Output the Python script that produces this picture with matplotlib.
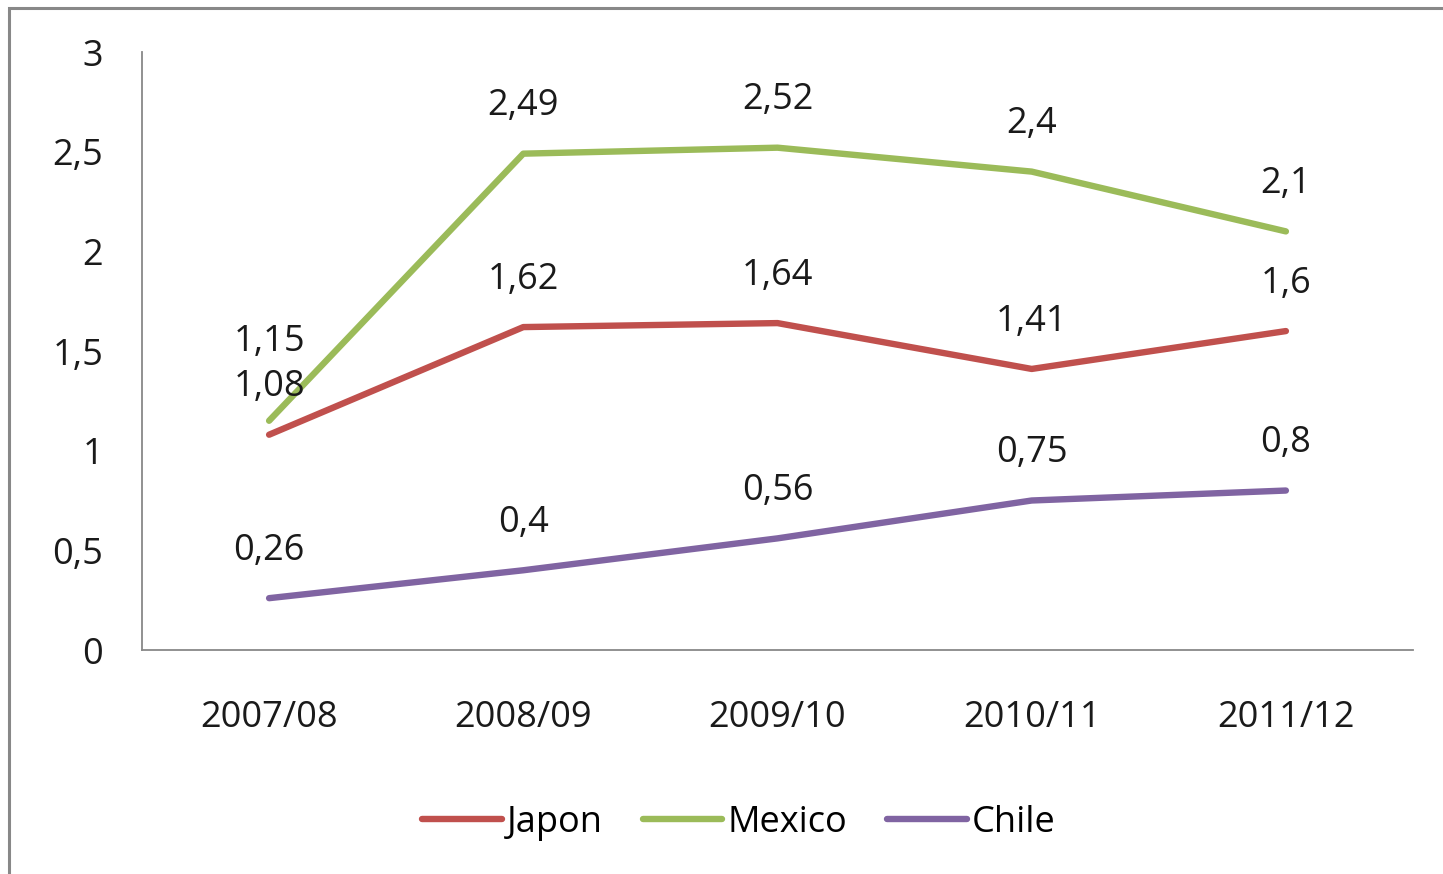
import matplotlib.pyplot as plt
from matplotlib.patches import Rectangle
import numpy as np

# data
categories = ["2007/08", "2008/09", "2009/10", "2010/11", "2011/12"]
japon = [1.08, 1.62, 1.64, 1.41, 1.6]
mexico = [1.15, 2.49, 2.52, 2.4, 2.1]
chile = [0.26, 0.4, 0.56, 0.75, 0.8]
series_names = ["Japon", "Mexico", "Chile"]
yticks = [0, 0.5, 1, 1.5, 2, 2.5, 3]

colors = ["#C0504D", "#9BBB59", "#8064A2"]

plt.rcParams['font.family'] = ['Open Sans', 'DejaVu Sans']
FS = 26

fig = plt.figure(figsize=(14.43, 8.74), dpi=100)
ax = fig.add_axes([142 / 1443, 1 - 650 / 874, (1413 - 142) / 1443, (650 - 52) / 874])

x = np.arange(len(categories)) + 0.5
series = [japon, mexico, chile]
for name, vals, c in zip(series_names, series, colors):
    ax.plot(x, vals, color=c, lw=4.6, solid_capstyle='round', label=name)

# data labels (offsets in points above the point)
offsets = {"Mexico": [57, 34, 34, 34, 34]}
for name, vals in zip(series_names, series):
    offs = offsets.get(name, [34] * len(vals))
    for xi, v, o in zip(x, vals, offs):
        ax.annotate(f"{v:g}".replace('.', ','), (xi, v), xytext=(0, o),
                    textcoords='offset points', ha='center', va='center',
                    fontsize=FS, color='#1a1a1a')

ax.set_xlim(0, 5)
ax.set_ylim(0, 3)
ax.set_xticks(x)
ax.set_xticklabels(categories)
ax.set_yticks(yticks)
ax.set_yticklabels([f"{t:g}".replace('.', ',') for t in yticks])
ax.tick_params(axis='both', length=0, labelsize=FS, colors='#1a1a1a')
ax.tick_params(axis='y', pad=28)
ax.tick_params(axis='x', pad=36)
for s in ['top', 'right']:
    ax.spines[s].set_visible(False)
for s in ['left', 'bottom']:
    ax.spines[s].set_color('#888888')
    ax.spines[s].set_linewidth(1.3)

fig.legend(loc='center', bbox_to_anchor=(739 / 1443, 1 - 823 / 874), ncol=3,
           frameon=False, fontsize=FS, handlelength=2.2, handletextpad=0.15,
           columnspacing=1.1)

# outer chart frame (right and bottom cut off in the reference)
fig.patches.append(Rectangle((9 / 1443, -0.05), 1.1, 1 - 8 / 874 + 0.05,
                             transform=fig.transFigure, fill=False,
                             edgecolor='#888888', lw=2.2))

fig.savefig("out.png", dpi=100)
